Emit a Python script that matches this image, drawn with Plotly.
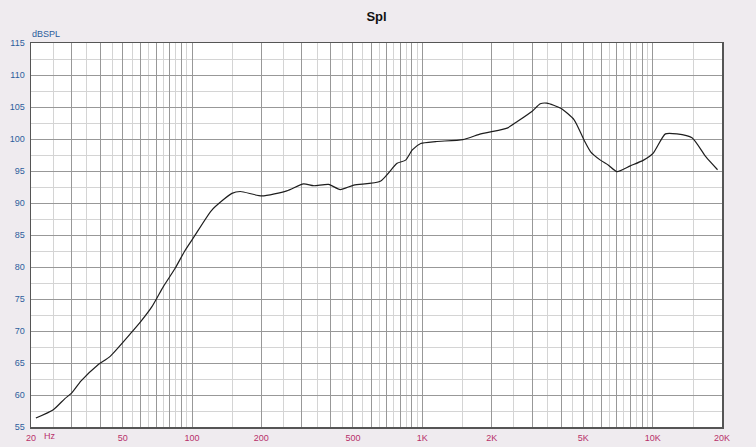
import numpy as np
import plotly.graph_objects as go

# ---- data ----
freq_hz = [21, 25, 28, 30, 33, 39, 44, 55, 60, 67, 75, 84.5, 93, 102, 122, 149, 162,
           201, 258, 305, 337, 392, 440, 504, 657, 777, 846, 905, 984, 1143, 1500,
           1794, 1980, 2334, 2576, 2990, 3250, 3470, 3990, 4560, 5040, 5380, 5930,
           6430, 7000, 8000, 9130, 10060, 11360, 12740, 14820, 17040, 19130]
spl_db = [56.4, 57.7, 59.4, 60.3, 62.2, 64.7, 66.0, 69.9, 71.5, 73.8, 76.9, 79.8, 82.5,
          84.7, 88.9, 91.5, 91.8, 91.1, 91.9, 93.0, 92.7, 92.9, 92.1, 92.8, 93.4, 96.2,
          96.7, 98.3, 99.3, 99.6, 99.9, 100.8, 101.1, 101.7, 102.7, 104.3, 105.5, 105.6,
          104.8, 103.0, 99.8, 98.0, 96.7, 95.9, 94.9, 95.8, 96.7, 97.8, 100.8, 100.8,
          100.2, 97.2, 95.2]

x_major = [20, 30, 40, 50, 60, 70, 80, 90, 100, 200, 300, 400, 500, 600, 700, 800, 900,
           1000, 2000, 3000, 4000, 5000, 6000, 7000, 8000, 9000, 10000, 20000]
x_minor = [25, 35, 45, 55, 65, 75, 85, 95, 150, 250, 350, 450, 550, 650, 750, 850, 950,
           1500, 2500, 3500, 4500, 5500, 6500, 7500, 8500, 9500, 15000]
x_labels = {20: "20", 50: "50", 100: "100", 200: "200", 500: "500", 1000: "1K",
            2000: "2K", 5000: "5K", 10000: "10K", 20000: "20K"}
y_major = [55, 60, 65, 70, 75, 80, 85, 90, 95, 100, 105, 110, 115]
y_minor = [57.5, 62.5, 67.5, 72.5, 77.5, 82.5, 87.5, 92.5, 97.5, 102.5, 107.5, 112.5]

BG = "#efebef"
MAJ = "#989898"
MIN = "#d4d4d4"
FRAME = "#555555"
BLUE = "#2d5d9c"
RED = "#b8306a"

fig = go.Figure()
fig.add_trace(go.Scatter(x=freq_hz, y=spl_db, mode="lines", line_shape="spline",
                         line=dict(color="#1e1e1e", width=1.2, smoothing=0.6),
                         hoverinfo="skip", showlegend=False))

fig.update_layout(
    width=756, height=447,
    margin=dict(l=31, r=34, t=43, b=20, autoexpand=False),
    paper_bgcolor=BG, plot_bgcolor="white",
    font=dict(family="Liberation Sans, Arial, sans-serif"),
    title=dict(text="<b>Spl</b>", x=0.5, xref="paper", xanchor="center",
               y=1 - 16.5 / 447, yanchor="middle",
               font=dict(size=13, color="#111111")),
    showlegend=False,
)

fig.update_xaxes(
    type="log", range=[np.log10(20), np.log10(20000)], automargin=False,
    tickmode="array", tickvals=x_major,
    ticktext=[x_labels.get(v, "") for v in x_major],
    tickfont=dict(size=9, color=RED), ticks="", ticklabelstandoff=2,
    showgrid=True, gridcolor=MAJ, gridwidth=1,
    minor=dict(tickmode="array", tickvals=x_minor, showgrid=True,
               gridcolor=MIN, gridwidth=1, ticks=""),
    showline=True, linecolor=FRAME, linewidth=1.5, mirror=True,
    zeroline=False, fixedrange=True,
)
fig.update_yaxes(
    range=[55, 115], automargin=False, tickmode="array", tickvals=y_major,
    ticktext=[str(v) for v in y_major],
    tickfont=dict(size=9, color=BLUE), ticks="", ticklabelstandoff=3,
    showgrid=True, gridcolor=MAJ, gridwidth=1,
    minor=dict(tickmode="array", tickvals=y_minor, showgrid=True,
               gridcolor=MIN, gridwidth=1, ticks=""),
    showline=True, linecolor=FRAME, linewidth=1.5, mirror=True,
    zeroline=False, fixedrange=True,
)

fig.add_annotation(text="dBSPL", xref="paper", yref="paper", x=0, y=1,
                   xanchor="left", yanchor="bottom", yshift=2, xshift=-1,
                   showarrow=False, font=dict(size=9, color=BLUE))
fig.add_annotation(text="Hz", xref="paper", yref="paper", x=0, y=0,
                   xanchor="left", yanchor="top", xshift=11, yshift=-2,
                   showarrow=False, font=dict(size=9, color=RED))

fig.write_html(
    "out.html",
    config={"displayModeBar": False, "staticPlot": True},
    post_script=("document.body.style.margin='0';"
                 "document.body.style.overflow='hidden';"
                 "document.body.style.background='" + BG + "';"),
)
